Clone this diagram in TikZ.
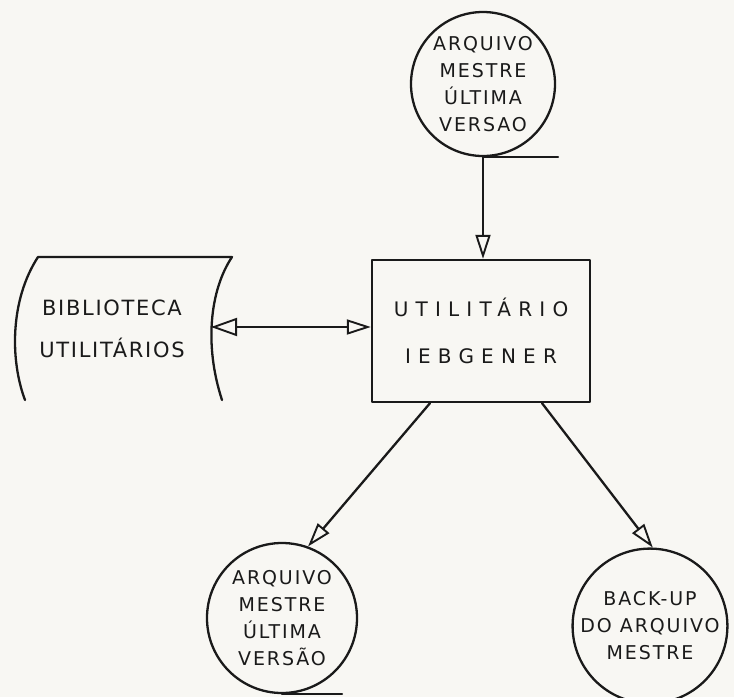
\documentclass[tikz,border=0pt]{standalone}
\usepackage{fontspec}
\setmainfont{DejaVu Sans}
\newfontfamily\hand[LetterSpace=10]{DejaVu Sans}
\usetikzlibrary{arrows.meta,calc}
\definecolor{paper}{HTML}{F8F7F3}
\definecolor{ink}{HTML}{1A1A1A}
\begin{document}
\begin{tikzpicture}[x=1pt,y=-1pt,
  inkline/.style={draw=ink, line width=2.3pt, line cap=round, line join=round},
  flow/.style={inkline, -{Triangle[open, length=24pt, width=15pt, line width=1.9pt]}},
  twoway/.style={inkline, {Triangle[open, length=26pt, width=18pt, line width=1.9pt]}-{Triangle[open, length=24pt, width=15pt, line width=1.9pt]}},
  tape/.style={circle, inkline, inner sep=0pt, minimum size=#1, align=center, text=ink,
    font={\hand\fontsize{19}{27}\selectfont}},
  procbox/.style={rectangle, inkline, inner sep=0pt, minimum width=218pt, minimum height=142pt,
    align=center, text=ink, font={\hand\addfontfeature{LetterSpace=36}\fontsize{20}{47}\selectfont}},
  libtext/.style={align=center, text=ink, inner sep=0pt,
    font={\hand\addfontfeature{LetterSpace=8}\fontsize{21}{42}\selectfont}}
]
\useasboundingbox (0,0) rectangle (734,697);
\fill[paper] (0,0) rectangle (734,697);

% tape files
\node[tape=144pt] (topc) at (483,84) {ARQUIVO\\MESTRE\\ÚLTIMA\\VERSAO};
\node[tape=150pt] (blc) at (282,618) {ARQUIVO\\MESTRE\\ÚLTIMA\\VERSÃO};
\node[tape=152pt] (brc) at (650,626) {BACK-UP\\DO ARQUIVO\\MESTRE};

% tape tails
\draw[inkline] (topc.south) -- ++(75,0);
\draw[inkline] (blc.south) -- ++(60,0);
\draw[inkline] (brc.south) -- ++(70,0);

% utility program
\node[procbox] (box) at (481,331) {UTILITÁRIO\\IEBGENER};

% library (stored data symbol)
\draw[inkline] (25,400) .. controls (10,360) and (10,300) .. (38,257) -- (232,257)
  .. controls (210,290) and (204,345) .. (222,400);
\node[libtext] (lib) at (112,329) {BIBLIOTECA\\UTILITÁRIOS};
\coordinate (libR) at (211,327);

% connectors
\draw[flow] (topc.south) -- (topc.south |- box.north);
\draw[twoway] (libR) -- (libR -| box.west);
\draw[flow] ([xshift=-51pt]box.south) -- (blc.70);
\draw[flow] ([xshift=61pt]box.south) -- (brc.88);
\end{tikzpicture}
\end{document}
